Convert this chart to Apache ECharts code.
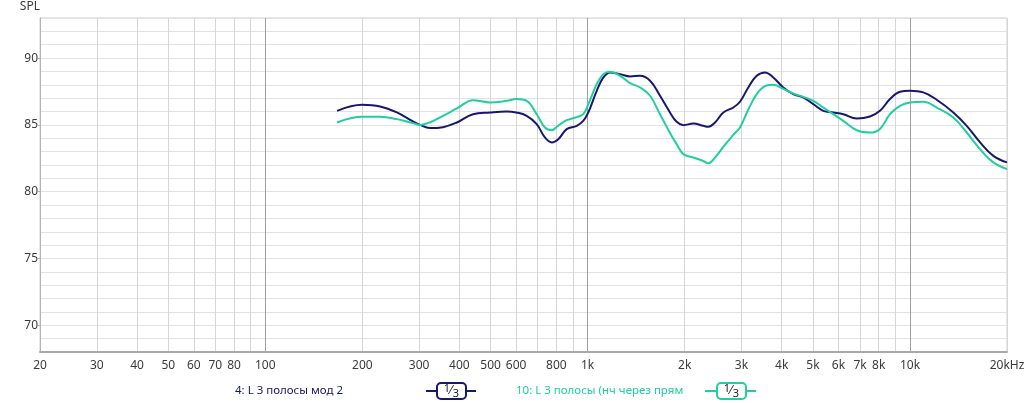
<!DOCTYPE html>
<html>
<head>
<meta charset="utf-8" />
<script src="https://cdn.jsdelivr.net/npm/echarts@6/dist/echarts.min.js"></script>
<style>
  html, body { margin: 0; padding: 0; background: #fff; }
  #chart { width: 1027px; height: 403px; }
</style>
</head>
<body>
<div id="chart"></div>
<script>
// частоты (Гц), общие для обеих кривых
var freqs = [167, 200, 227, 256, 287, 302, 324, 356, 393, 441, 498, 561, 600, 647, 695, 737, 774, 811, 861, 925, 969, 1005,
  1067, 1119, 1173, 1261, 1354, 1454, 1562, 1677, 1801, 1889, 1981, 2128, 2285, 2368, 2484, 2636, 2831, 2969, 3151, 3346,
  3550, 3767, 4046, 4345, 4667, 5013, 5384, 5783, 6212, 6838, 7516, 8072, 8671, 9314, 10000, 11000, 12100, 13630, 15000,
  16500, 18140, 20000];
// 4: L 3 полосы мод 2
var spl4 = [86.05, 86.5, 86.38, 85.93, 85.26, 85.0, 84.76, 84.83, 85.18, 85.8, 85.93, 86.0, 85.93, 85.68, 85.06, 84.06, 83.69,
  83.93, 84.68, 84.93, 85.3, 85.93, 87.55, 88.55, 88.93, 88.8, 88.63, 88.67, 88.3, 87.18, 85.93, 85.23, 84.98, 85.1, 84.93,
  84.86, 85.18, 85.93, 86.3, 86.73, 87.8, 88.67, 88.93, 88.55, 87.8, 87.3, 87.06, 86.55, 86.05, 85.93, 85.8, 85.48, 85.63,
  86.05, 86.93, 87.48, 87.55, 87.43, 86.88, 85.93, 84.93, 83.69, 82.68, 82.19];
// 10: L 3 полосы (нч через прям
var spl10 = [85.18, 85.6, 85.6, 85.43, 85.13, 85.0, 85.18, 85.68, 86.23, 86.85, 86.68, 86.8, 86.93, 86.8, 85.8, 84.8, 84.6,
  84.95, 85.35, 85.58, 85.8, 86.55, 88.05, 88.8, 88.97, 88.67, 88.13, 87.8, 87.18, 85.8, 84.4, 83.56, 82.81, 82.56, 82.3,
  82.13, 82.55, 83.35, 84.25, 84.81, 86.15, 87.3, 87.9, 88.0, 87.7, 87.35, 87.1, 86.8, 86.3, 85.8, 85.3, 84.6, 84.43, 84.7,
  85.8, 86.43, 86.68, 86.73, 86.3, 85.56, 84.43, 83.18, 82.19, 81.69];

var gridFreqs = [20, 30, 40, 50, 60, 70, 80, 90, 100, 200, 300, 400, 500, 600, 700, 800, 900,
  1000, 2000, 3000, 4000, 5000, 6000, 7000, 8000, 9000, 10000, 20000];
var decadeFreqs = [100, 1000, 10000];
var labelFreqs = [20, 30, 40, 50, 60, 70, 80, 100, 200, 300, 400, 500, 600, 800, 1000, 2000, 3000, 4000, 5000, 6000,
  7000, 8000, 10000, 20000];
var splTicks = [70, 75, 80, 85, 90];

var navy = "#17176f";
var teal = "#1fcf9d";
var font = "Noto Sans";

var lg = function (v) { return Math.log10(v); };
var xMin = lg(20);
var xMax = lg(20000);

var freqLabel = function (v) {
  var f = Math.round(Math.pow(10, v));
  if (f >= 1000) {
    return f / 1000 + "k" + (f === 20000 ? "Hz" : "");
  }
  return String(f);
};

var myChart = echarts.init(document.getElementById("chart"));
var option = {
  animation: false,
  grid: {
    left: 40,
    right: 20,
    top: 18,
    bottom: 51,
    show: true,
    borderColor: "#cfcfcf",
    borderWidth: 1,
    outerBoundsMode: "none",
  },
  xAxis: [
    {
      type: "value",
      min: xMin,
      max: xMax,
      axisLine: { show: true, lineStyle: { color: "#a8a8a8", width: 2 } },
      axisTick: { show: false, customValues: gridFreqs.map(lg) },
      axisLabel: {
        customValues: labelFreqs.map(lg),
        formatter: freqLabel,
        showMinLabel: true,
        showMaxLabel: true,
        color: "#3a3a3a",
        fontFamily: font,
        fontSize: 12,
        margin: 8,
      },
      splitLine: { show: true, lineStyle: { color: "#d6d6d6", width: 1 } },
    },
    {
      type: "value",
      min: xMin,
      max: xMax,
      position: "bottom",
      axisLine: { show: false },
      axisTick: { show: false, customValues: decadeFreqs.map(lg) },
      axisLabel: { show: false },
      splitLine: { show: true, lineStyle: { color: "#9e9e9e", width: 1 } },
    },
  ],
  yAxis: [
    {
      type: "value",
      min: 68,
      max: 93,
      interval: 1,
      name: "SPL",
      nameLocation: "end",
      nameGap: 5,
      nameTextStyle: { color: "#3a3a3a", fontFamily: font, fontSize: 12, align: "right", verticalAlign: "bottom" },
      axisLine: { show: true, lineStyle: { color: "#b4b4b4", width: 1 } },
      axisTick: { show: false },
      axisLabel: { show: false },
      splitLine: { show: true, lineStyle: { color: "#e2e2e2", width: 1 } },
    },
    {
      type: "value",
      min: 68,
      max: 93,
      interval: 1,
      position: "left",
      axisLine: { show: false },
      axisTick: { show: true, length: 2, customValues: splTicks, lineStyle: { color: "#b4b4b4" } },
      axisLabel: {
        customValues: splTicks,
        color: "#3a3a3a",
        fontFamily: font,
        fontSize: 12,
        margin: 2,
      },
      splitLine: { show: false },
    },
  ],
  series: [
    {
      name: "4: L 3 полосы мод 2",
      type: "line",
      xAxisIndex: 0,
      yAxisIndex: 0,
      showSymbol: false,
      smooth: 0.4,
      lineStyle: { color: navy, width: 2 },
      data: freqs.map(function (f, i) { return [lg(f), spl4[i]]; }),
    },
    {
      name: "10: L 3 полосы (нч через прям",
      type: "line",
      xAxisIndex: 0,
      yAxisIndex: 0,
      showSymbol: false,
      smooth: 0.4,
      lineStyle: { color: teal, width: 2 },
      data: freqs.map(function (f, i) { return [lg(f), spl10[i]]; }),
    },
  ],
  graphic: [
    { type: "text", x: 235, y: 391, style: { text: "4: L 3 полосы мод 2", fill: navy, font: "11.5px " + font, verticalAlign: "middle" } },
    { type: "line", shape: { x1: 426, y1: 391, x2: 476, y2: 391 }, style: { stroke: navy, lineWidth: 2 } },
    { type: "rect", shape: { x: 437, y: 383, width: 29, height: 16, r: 4 }, style: { fill: "#fff", stroke: navy, lineWidth: 2 } },
    { type: "text", x: 447, y: 389, style: { text: "1", fill: "#222", font: "11px " + font, align: "center", verticalAlign: "middle" } },
    { type: "text", x: 451, y: 391, style: { text: "⁄", fill: "#222", font: "12px " + font, align: "center", verticalAlign: "middle" } },
    { type: "text", x: 456, y: 394, style: { text: "3", fill: "#222", font: "11px " + font, align: "center", verticalAlign: "middle" } },
    { type: "text", x: 516, y: 391, style: { text: "10: L 3 полосы (нч через прям", fill: teal, font: "11.5px " + font, verticalAlign: "middle" } },
    { type: "line", shape: { x1: 705, y1: 391, x2: 756, y2: 391 }, style: { stroke: teal, lineWidth: 2 } },
    { type: "rect", shape: { x: 717, y: 383, width: 29, height: 16, r: 4 }, style: { fill: "#fff", stroke: teal, lineWidth: 2 } },
    { type: "text", x: 727, y: 389, style: { text: "1", fill: "#222", font: "11px " + font, align: "center", verticalAlign: "middle" } },
    { type: "text", x: 731, y: 391, style: { text: "⁄", fill: "#222", font: "12px " + font, align: "center", verticalAlign: "middle" } },
    { type: "text", x: 736, y: 394, style: { text: "3", fill: "#222", font: "11px " + font, align: "center", verticalAlign: "middle" } },
  ],
};
option && myChart.setOption(option);
</script>
</body>
</html>
